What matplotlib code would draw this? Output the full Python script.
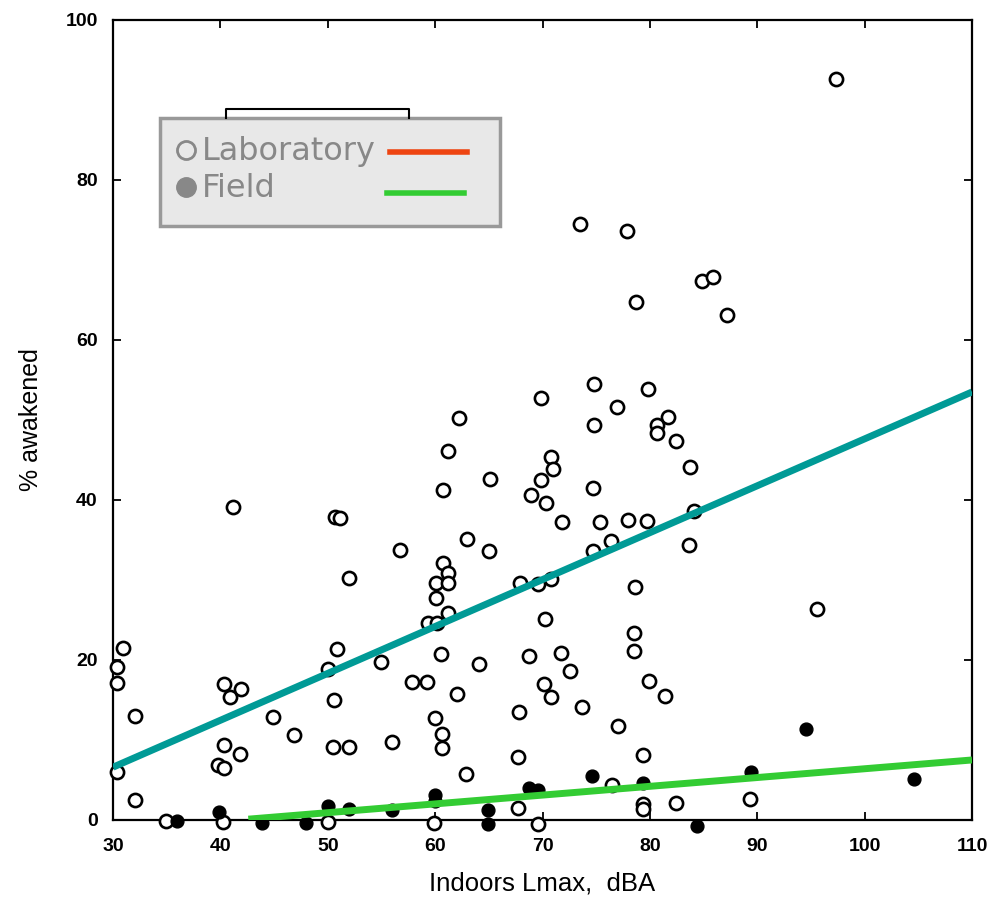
import matplotlib.pyplot as plt
from matplotlib.patches import Rectangle
from matplotlib.lines import Line2D

# laboratory points (open circles)
lab_x = [97.3, 73.5, 77.9, 84.9, 85.9, 78.7, 87.2, 74.8, 79.8, 62.2,
         69.9, 76.9, 74.8, 81.7, 80.7, 80.7, 82.4, 61.2, 70.8, 71.0,
         65.1, 60.7, 69.9, 74.7, 83.7, 68.9, 70.3, 41.2, 84.1, 50.7,
         51.1, 71.8, 75.4, 78.0, 79.7, 76.4, 83.6, 56.7, 63.0, 65.0,
         74.7, 60.7, 61.2, 60.1, 61.2, 70.8, 67.9, 69.6, 78.6, 52.0,
         60.1, 61.2, 95.6, 70.2, 59.3, 60.2, 50.9, 30.9, 30.4, 50.0,
         55.0, 60.5, 64.1, 78.5, 78.5, 68.7, 71.7, 72.6, 70.1, 70.8,
         79.9, 30.4, 40.3, 41.9, 40.9, 57.8, 59.2, 62.0, 50.6, 81.4,
         32.0, 44.9, 60.0, 60.6, 60.6, 46.9, 67.8, 73.7, 77.0, 56.0,
         40.3, 41.8, 50.5, 52.0, 67.7, 79.4, 39.8, 40.3, 30.4, 62.9,
         32.0, 76.5, 79.4, 79.4, 82.4, 89.3, 67.7, 34.9, 40.2, 50.0,
         59.9, 69.6]
lab_y = [92.6, 74.5, 73.6, 67.4, 67.9, 64.75, 63.1, 54.5, 53.9, 50.25,
         52.75, 51.6, 49.4, 50.4, 49.4, 48.4, 47.4, 46.1, 45.4, 43.9,
         42.6, 41.25, 42.5, 41.5, 44.1, 40.6, 39.6, 39.1, 38.6, 37.9,
         37.75, 37.25, 37.25, 37.5, 37.4, 34.9, 34.4, 33.75, 35.1, 33.6,
         33.6, 32.1, 30.9, 29.6, 29.6, 30.1, 29.6, 29.5, 29.1, 30.25,
         27.75, 25.9, 26.4, 25.1, 24.6, 24.6, 21.4, 21.5, 19.1, 18.9,
         19.75, 20.75, 19.5, 23.4, 21.1, 20.5, 20.9, 18.6, 17.0, 15.4,
         17.4, 17.1, 17.0, 16.4, 15.4, 17.25, 17.25, 15.75, 15.0, 15.5,
         13.0, 12.9, 12.75, 10.75, 9.0, 10.6, 13.5, 14.1, 11.75, 9.75,
         9.4, 8.25, 9.1, 9.1, 7.9, 8.1, 6.9, 6.5, 6.0, 5.75,
         2.5, 4.4, 2.0, 1.4, 2.1, 2.6, 1.5, -0.1, -0.25, -0.25,
         -0.4, -0.5]

# field points (filled circles)
field_x = [36.0, 39.9, 43.9, 48.0, 50.0, 52.0, 56.0, 60.0, 60.0, 64.9,
           64.9, 68.7, 69.6, 74.6, 79.4, 89.4, 94.5, 104.6, 84.4]
field_y = [-0.1, 1.0, -0.4, -0.4, 1.75, 1.4, 1.25, 3.1, 2.4, 1.25,
           -0.5, 4.0, 3.75, 5.5, 4.6, 6.0, 11.4, 5.1, -0.75]

# regression lines
lab_fit_x = [30, 110]
lab_fit_y = [6.6, 53.5]
field_fit_x = [42.6, 110]
field_fit_y = [0.1, 7.5]

x_ticks = [30, 40, 50, 60, 70, 80, 90, 100, 110]
y_ticks = [0, 20, 40, 60, 80, 100]

plt.rcParams['font.family'] = ['Liberation Sans', 'DejaVu Sans']

fig = plt.figure(figsize=(9.89, 9.13), dpi=100)
ax = fig.add_axes([0.1143, 0.1019, 0.8685, 0.8762])

ax.scatter(lab_x, lab_y, s=90, facecolors='white', edgecolors='black',
           linewidths=1.9, zorder=3, clip_on=False)
ax.scatter(field_x, field_y, s=85, facecolors='black', edgecolors='black',
           linewidths=1, zorder=3, clip_on=False)
ax.plot(lab_fit_x, lab_fit_y, color='#009a96', lw=5, zorder=4, solid_capstyle='butt')
ax.plot(field_fit_x, field_fit_y, color='#33cc33', lw=5, zorder=4, solid_capstyle='butt')

ax.set_xlim(30, 110)
ax.set_ylim(0, 100)
ax.set_xticks(x_ticks)
ax.set_yticks(y_ticks)
ax.tick_params(direction='in', length=6, width=1.3, top=True, right=True,
               labelsize=14, pad=13)
ax.tick_params(axis='y', pad=11)
for lbl in ax.get_xticklabels() + ax.get_yticklabels():
    lbl.set_fontweight('bold')
for s in ax.spines.values():
    s.set_linewidth(1.6)

ax.set_xlabel('Indoors Lmax,  dBA', fontsize=18.5, labelpad=12)
ax.set_ylabel('% awakened', fontsize=18, labelpad=16)

# legend box drawn by hand (markers left, lines right)
ax.add_patch(Rectangle((0.0547, 0.7425), 0.396, 0.135, transform=ax.transAxes,
                       facecolor='#e8e8e8', edgecolor='#999999', lw=2.5,
                       zorder=5, clip_on=False))
ax.plot([0.132, 0.132, 0.345, 0.345], [0.8775, 0.889, 0.889, 0.8775],
        transform=ax.transAxes, color='black', lw=1.5, zorder=5, clip_on=False)
ax.plot([0.0845], [0.837], transform=ax.transAxes, marker='o', ms=13,
        mfc='none', mec='#888888', mew=2, zorder=6)
ax.plot([0.0845], [0.791], transform=ax.transAxes, marker='o', ms=14,
        mfc='#888888', mec='#888888', zorder=6)
ax.text(0.104, 0.835, 'Laboratory', transform=ax.transAxes, fontsize=23,
        color='#888888', va='center', family='DejaVu Sans', zorder=6)
ax.text(0.104, 0.789, 'Field', transform=ax.transAxes, fontsize=23,
        color='#888888', va='center', family='DejaVu Sans', zorder=6)
ax.add_line(Line2D([0.322, 0.412], [0.835, 0.835], transform=ax.transAxes,
                   color='#ee4411', lw=4, zorder=6))
ax.add_line(Line2D([0.319, 0.409], [0.784, 0.784], transform=ax.transAxes,
                   color='#33cc33', lw=4, zorder=6))

fig.savefig('out.png', dpi=100)
